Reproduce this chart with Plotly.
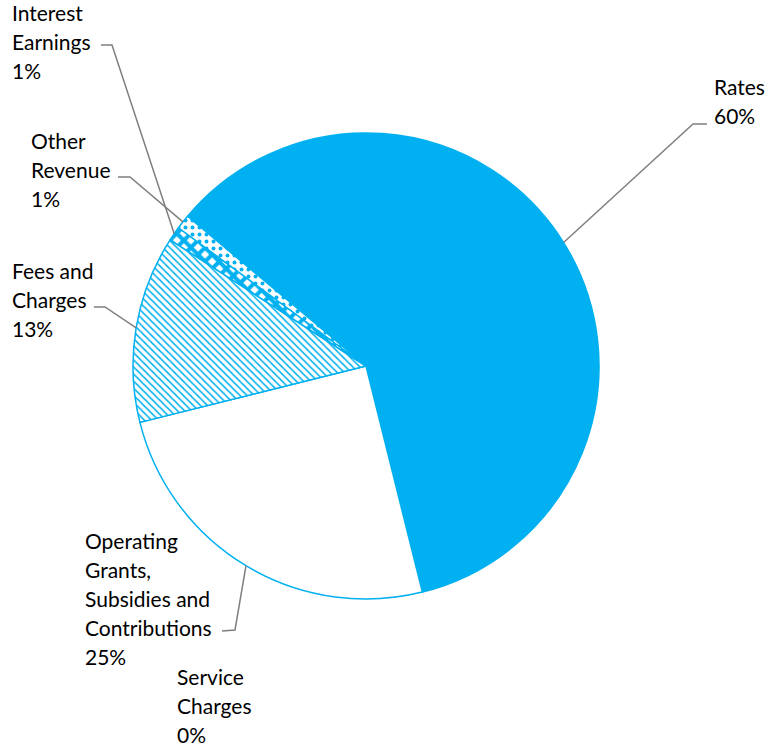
import math
import plotly.graph_objects as go

# ---- data ----
labels = ["Rates", "Service Charges", "Operating Grants, Subsidies and Contributions",
          "Fees and Charges", "Interest Earnings", "Other Revenue"]
values = [60, 0, 25, 13, 1, 1]
pct_text = ["60%", "0%", "25%", "13%", "1%", "1%"]
label_lines = [["Rates"], ["Service", "Charges"],
               ["Operating", "Grants,", "Subsidies and", "Contributions"],
               ["Fees and", "Charges"], ["Interest", "Earnings"], ["Other", "Revenue"]]

W, H = 771, 752
CX, CY, R = 366, 366, 233
ROT = 310.0
BLUE = "#00B0F0"

def px(x):
    return x / W

def py(y):
    return 1 - y / H

fig = go.Figure()
fig.add_trace(go.Pie(
    labels=labels, values=values, sort=False, direction="clockwise", rotation=ROT,
    textinfo="none", hoverinfo="label+percent",
    domain=dict(x=[px(CX - R), px(CX + R)], y=[py(CY + R), py(CY - R)]),
    marker=dict(
        colors=[BLUE, "white", "white", "white", "white", "white"],
        line=dict(color=BLUE, width=1.5),
        pattern=dict(
            shape=["", "", "", "\\", "x", "."],
            fgcolor=[BLUE] * 6,
            bgcolor=[BLUE, "white", "white", "white", "white", "white"],
            size=[8, 8, 8, 5, 10, 7],
            solidity=[0.3, 0.3, 0.3, 0.3, 0.65, 0.25],
            fillmode="replace",
        ),
    ),
    showlegend=False,
))

# label layout (top-left of text block), elbow of leader line
layout_pos = {
    "Rates": dict(x=712, y=72, elbow=[(707, 124), (693, 124)]),
    "Service Charges": dict(x=175, y=662, elbow=None),
    "Operating Grants, Subsidies and Contributions": dict(x=83, y=526, elbow=[(222, 631), (235, 630)]),
    "Fees and Charges": dict(x=10, y=256, elbow=[(94, 307), (105, 307)]),
    "Interest Earnings": dict(x=10, y=-2, elbow=[(101, 45), (112, 45)]),
    "Other Revenue": dict(x=29, y=126, elbow=[(118, 177), (130, 177)]),
}
STEP = 29

total = sum(values)
angle = ROT
annotations = []
shapes = []
for lab, v, pt, lines in zip(labels, values, pct_text, label_lines):
    span = 360 * v / total
    mid = math.radians(angle + span / 2)
    angle += span
    ax = CX + R * math.sin(mid)
    ay = CY - R * math.cos(mid)
    pos = layout_pos[lab]
    for i, t in enumerate(lines + [pt]):
        annotations.append(dict(
            x=px(pos["x"]), y=py(pos["y"] + i * STEP), xref="paper", yref="paper",
            text=t, showarrow=False, xanchor="left", yanchor="top",
            font=dict(family="Lato, 'Open Sans', sans-serif", size=21, color="#000000"),
        ))
    if pos["elbow"] and v > 0:
        (x0, y0), (x1, y1) = pos["elbow"]
        path = f"M {px(x0)} {py(y0)} L {px(x1)} {py(y1)} L {px(ax)} {py(ay)}"
        shapes.append(dict(type="path", xref="paper", yref="paper", path=path,
                           line=dict(color="#7F7F7F", width=1.5)))

fig.update_layout(
    width=W, height=H, margin=dict(l=0, r=0, t=0, b=0),
    paper_bgcolor="white", plot_bgcolor="white",
    annotations=annotations, shapes=shapes,
)

fig.write_html("out.html")
